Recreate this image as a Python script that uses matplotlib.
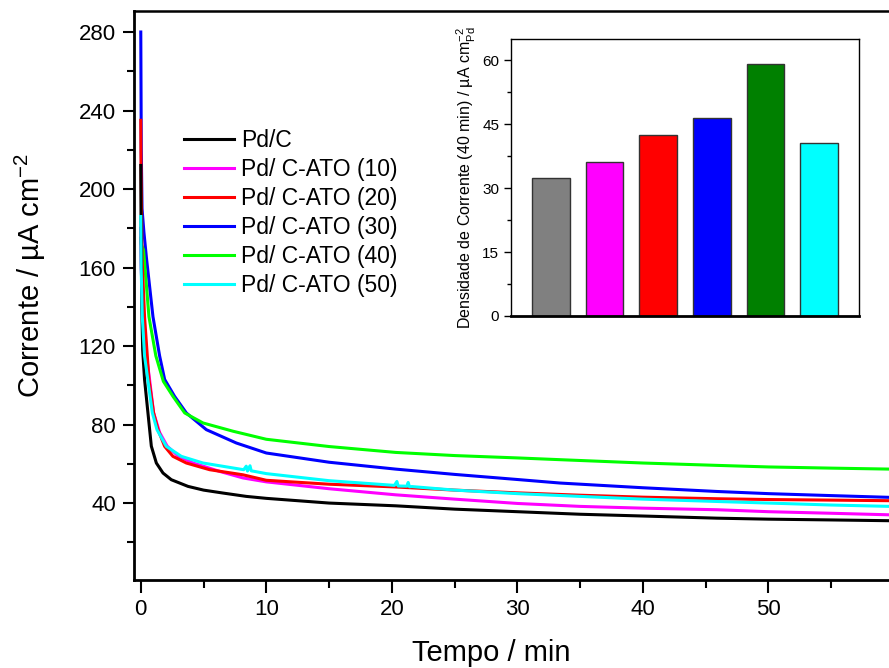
import numpy as np
import matplotlib
matplotlib.use("Agg")
import matplotlib.pyplot as plt

plt.rcParams["font.family"] = ["Liberation Sans", "DejaVu Sans"]
plt.rcParams["mathtext.fontset"] = "custom"
plt.rcParams["mathtext.rm"] = "Liberation Sans"
plt.rcParams["mathtext.it"] = "Liberation Sans:italic"
plt.rcParams["mathtext.bf"] = "Liberation Sans:bold"

# chronoamperometry curves, time in min, current in uA cm-2
t_pdc = [0, 0.02, 0.08, 0.15, 0.3, 0.57, 0.84, 1.24, 1.77, 2.43, 3.76, 5.0,
         6.55, 8.4, 10, 15, 20.3, 25, 30, 35, 40, 45.9, 50, 55, 59.7]
i_pdc = [212, 186, 140, 118, 103, 86, 69, 60.4, 55.3, 51.9, 48.5, 46.6,
         45.1, 43.4, 42.4, 40.0, 38.6, 36.9, 35.6, 34.3, 33.4, 32.3, 31.8, 31.4, 31.0]

t_ato10 = [0, 0.03, 0.2, 0.45, 0.7, 1.02, 1.5, 2.1, 2.97, 4.17, 6.3, 8.14,
           10, 15, 20.3, 25, 30, 35, 40, 45.9, 50, 55, 59.7]
i_ato10 = [180, 160, 135, 115, 103, 86, 76, 69, 64, 60.4, 56.1, 52.8,
           50.8, 47.3, 44.2, 42.0, 39.8, 38.3, 37.4, 36.6, 35.6, 34.8, 34.0]

t_ato20 = [0, 0.02, 0.1, 0.3, 0.65, 1.02, 1.37, 1.9, 2.56, 3.63, 5.48, 8.14,
           10, 15, 20.3, 25, 30, 35, 40, 45.9, 50, 55, 59.7]
i_ato20 = [235, 212, 165, 135, 103, 86, 77.4, 68.9, 63.8, 60.4, 57.0, 54.4,
           51.6, 49.6, 48.2, 46.6, 45.2, 44.0, 43.0, 42.2, 41.8, 41.5, 41.2]

t_ato30 = [0, 0.04, 0.1, 0.25, 0.45, 0.97, 1.5, 1.9, 2.69, 3.63, 5.22, 7.61,
           10, 15, 20.3, 25, 30, 33.4, 40, 45.9, 50, 55, 59.7]
i_ato30 = [280, 220, 190, 178, 165, 135, 115, 103, 94.4, 85.9, 77.4, 70.6,
           65.5, 60.8, 57.3, 54.6, 52.0, 50.2, 47.8, 45.9, 44.8, 43.8, 42.9]

t_ato40 = [0, 0.03, 0.22, 0.65, 1.2, 1.8, 2.56, 3.5, 4.96, 7.35,
           10, 15, 20.3, 25, 30, 33.4, 40, 45.9, 50, 55, 59.7]
i_ato40 = [175, 172, 169, 135, 115, 102, 94.4, 85.9, 80.8, 76.6,
           72.5, 68.8, 65.8, 64.2, 63.0, 62.1, 60.4, 59.2, 58.4, 57.8, 57.3]

t_ato50 = [0, 0.03, 0.12, 0.3, 0.6, 0.92, 1.29, 2.03, 3.23, 4.96, 8.0, 8.2,
           8.4, 8.5, 8.7, 8.8, 9.0, 10, 15, 20.0, 20.2, 20.4, 20.5, 21.2, 21.3,
           21.4, 21.6, 25, 30, 35, 40, 45.9, 50, 55, 59.7]
i_ato50 = [186, 160, 135, 115, 101, 86, 77.4, 68.9, 63.8, 60.4, 57.2, 57.0,
           58.8, 56.3, 59.0, 56.4, 56.2, 55.0, 51.4, 49.1, 49.0, 51.0, 48.7, 48.6, 50.5,
           48.3, 48.4, 46.6, 44.8, 43.4, 42.0, 40.8, 40.0, 39.0, 38.3]

labels = ["Pd/C", "Pd/ C-ATO (10)", "Pd/ C-ATO (20)", "Pd/ C-ATO (30)",
          "Pd/ C-ATO (40)", "Pd/ C-ATO (50)"]
line_colors = ["#000000", "#FF00FF", "#FF0000", "#0000FF", "#00FF00", "#00FFFF"]

# current density after 40 min (inset)
bar_values = [32.3, 36.2, 42.4, 46.4, 59.2, 40.6]
bar_colors = ["#808080", "#FF00FF", "#FF0000", "#0000FF", "#008000", "#00FFFF"]

curves = [(t_pdc, i_pdc), (t_ato10, i_ato10), (t_ato20, i_ato20),
          (t_ato30, i_ato30), (t_ato40, i_ato40), (t_ato50, i_ato50)]
zorders = [5, 3, 4, 1, 2, 6]

W, H = 889, 668
fig = plt.figure(figsize=(W / 100, H / 100), dpi=100)
ax = fig.add_axes([134 / W, 88 / H, 755 / W, 569 / H])

handles = []
for (t, i), lab, c, z in zip(curves, labels, line_colors, zorders):
    h, = ax.plot(t, i, color=c, lw=2.2, label=lab, zorder=z,
                 solid_joinstyle="round")
    handles.append(h)

ax.set_xlim(-0.54, 59.6)
ax.set_ylim(0.8, 290.7)
ax.set_xticks(np.arange(0, 51, 10))
ax.set_xticks(np.arange(5, 60, 10), minor=True)
ax.set_yticks(np.arange(40, 281, 40))
ax.set_yticks(np.arange(20, 290, 40), minor=True)
ax.tick_params(which="major", direction="out", length=8, width=1.5,
               labelsize=16, pad=5)
ax.tick_params(which="minor", direction="out", length=5, width=1.5)
ax.tick_params(axis="x", which="major", length=9)
ax.tick_params(axis="x", which="minor", length=6)
ax.spines["right"].set_visible(False)
for s in ["left", "bottom"]:
    ax.spines[s].set_linewidth(2)
ax.spines["top"].set_linewidth(1.8)

# axis titles placed on the figure
fig.text(491 / W, 7 / H, "Tempo / min", fontsize=21, ha="center",
         va="baseline")
fig.text(30 / W, (H - 275) / H, "Corrente / µA cm$^{-2}$", fontsize=21,
         rotation=90, ha="center", va="center")

ax.legend(handles=handles, loc="upper left", bbox_to_anchor=(184 / W, (H - 129) / H),
          bbox_transform=fig.transFigure, frameon=False, fontsize=16.5,
          handlelength=2.2, handletextpad=0.3, labelspacing=0.26,
          borderpad=0, borderaxespad=0)

# inset with the 40 min bars
ins = fig.add_axes([511 / W, 352 / H, 348 / W, 277 / H])
pos = np.arange(1, len(bar_values) + 1)
ins.bar(pos, bar_values, width=0.7, color=bar_colors, edgecolor="#333333",
        linewidth=1)
ins.set_xlim(0.25, 6.75)
ins.set_ylim(0, 65)
ins.set_xticks([])
ins.set_yticks(np.arange(0, 61, 15))
ins.set_yticks(np.arange(7.5, 65, 15), minor=True)
ins.tick_params(which="major", direction="out", length=5, width=1,
                labelsize=11)
ins.tick_params(which="minor", direction="out", length=3, width=1)
for s in ["left", "top", "right"]:
    ins.spines[s].set_linewidth(1)
ins.spines["bottom"].set_linewidth(2)
ins.set_ylabel("Densidade de Corrente (40 min) / µA cm$^{-2}_{\\mathrm{Pd}}$",
               fontsize=11.5, labelpad=3)

fig.savefig("out.png", dpi=100)
